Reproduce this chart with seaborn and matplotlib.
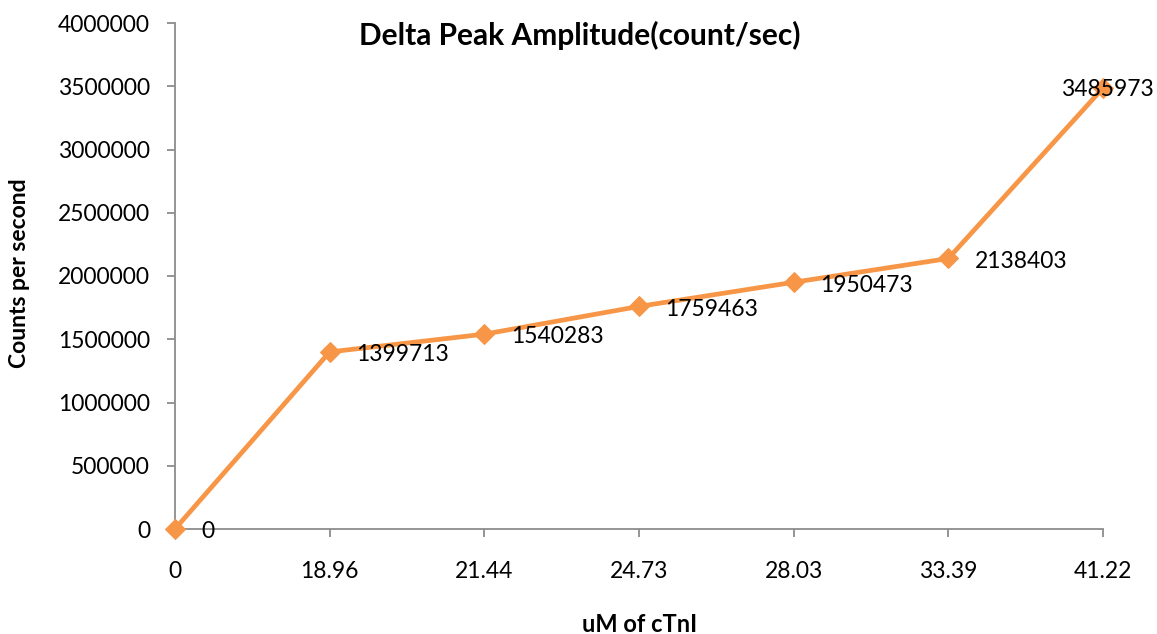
import numpy as np
import pandas as pd
import matplotlib
matplotlib.use("Agg")
import matplotlib.pyplot as plt
import seaborn as sns

# Data
concentrations = ["0", "18.96", "21.44", "24.73", "28.03", "33.39", "41.22"]
peak_amplitude = [0, 1399713, 1540283, 1759463, 1950473, 2138403, 3485973]

sns.set_theme(style="white")
plt.rcParams["font.family"] = ["Lato", "DejaVu Sans"]

W, H = 1157, 634
fig = plt.figure(figsize=(W / 100, H / 100), dpi=100)
ax = fig.add_axes([175 / W, (H - 529) / H, (1103 - 175) / W, (529 - 23) / H])

df = pd.DataFrame({"pos": np.arange(len(concentrations)), "cps": peak_amplitude})
orange = "#F79646"
sns.lineplot(data=df, x="pos", y="cps", ax=ax, color=orange, linewidth=3.4,
             marker="D", markersize=10.5, markeredgecolor=orange, sort=False,
             clip_on=False, zorder=3)

ax.set_xlim(0, len(concentrations) - 1)
ax.set_ylim(0, 4000000)
ax.set_xticks(df["pos"])
ax.set_xticklabels(concentrations)
ax.set_yticks(np.arange(0, 4000001, 500000))
ax.set_yticklabels([str(v) for v in range(0, 4000001, 500000)])

axis_grey = "#8C8C8C"
for side in ["top", "right"]:
    ax.spines[side].set_visible(False)
for side in ["left", "bottom"]:
    ax.spines[side].set_color(axis_grey)
    ax.spines[side].set_linewidth(1.3)
ax.tick_params(axis="both", which="major", direction="out", length=6,
               width=1.3, color=axis_grey, labelsize=16.5, labelcolor="black",
               bottom=True, left=True)
ax.tick_params(axis="x", pad=17)
ax.tick_params(axis="y", pad=12)

ax.set_xlabel("")
ax.set_ylabel("")

# Value labels beside each point
for i, v in enumerate(peak_amplitude):
    if i == len(peak_amplitude) - 1:
        ax.annotate(str(v), (i, v), xytext=(3, -1), textcoords="offset points",
                    ha="center", va="center", fontsize=16.5, color="black",
                    annotation_clip=False, zorder=4)
    else:
        ax.annotate(str(v), (i, v), xytext=(19, -2), textcoords="offset points",
                    ha="left", va="center", fontsize=16.5, color="black",
                    annotation_clip=False, zorder=4)

fig.text(580 / W, 1 - 35 / H, "Delta Peak Amplitude(count/sec)", ha="center",
         va="center", fontsize=21.5, fontweight="bold", color="black")
fig.text(20 / W, 1 - 273 / H, "Counts per second", ha="center", va="center",
         rotation=90, fontsize=16.5, fontweight="bold", color="black")
fig.text(640 / W, 1 - 624 / H, "uM of cTnI", ha="center", va="center",
         fontsize=17, fontweight="bold", color="black")

fig.savefig("out.png", dpi=100)
